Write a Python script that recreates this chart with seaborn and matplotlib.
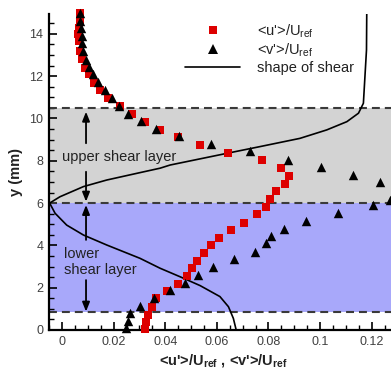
import numpy as np
import pandas as pd
import matplotlib
matplotlib.use("Agg")
import matplotlib.pyplot as plt
import seaborn as sns
from matplotlib.ticker import MultipleLocator
from matplotlib.lines import Line2D

# ---- data ----
u_y = [15.0, 14.6, 14.3, 14.0, 13.65, 13.2, 12.8, 12.4, 12.1, 11.7, 11.35, 10.96,
       10.57, 10.2, 9.83, 9.47, 9.12, 8.75, 8.37, 8.02, 7.66, 7.28, 6.92, 6.57,
       6.18, 5.82, 5.47, 5.08, 4.72, 4.37, 4.0, 3.65, 3.27, 2.91, 2.55, 2.17,
       1.84, 1.5, 1.1, 0.71, 0.36, 0.05]
u_x = [0.0070, 0.0070, 0.0067, 0.0063, 0.0067, 0.0070, 0.0076, 0.0089, 0.0106,
       0.0125, 0.0147, 0.0180, 0.0225, 0.0270, 0.0320, 0.0380, 0.0450, 0.0535,
       0.0645, 0.0774, 0.0850, 0.0880, 0.0864, 0.0828, 0.0806, 0.0790, 0.0757,
       0.0705, 0.0654, 0.0609, 0.0578, 0.0550, 0.0522, 0.0505, 0.0486, 0.0448,
       0.0406, 0.0365, 0.0348, 0.0333, 0.0326, 0.0322]

v_y = [15.0, 14.6, 14.27, 13.9, 13.55, 13.17, 12.77, 12.42, 12.08, 11.71, 11.35,
       10.98, 10.61, 10.22, 9.87, 9.51, 9.15, 8.8, 8.44, 8.05, 7.7, 7.33, 7.0,
       6.16, 5.9, 5.55, 5.16, 4.76, 4.43, 4.09, 3.7, 3.34, 2.97, 2.6, 2.24, 1.89,
       1.53, 1.13, 0.79, 0.42, 0.08]
v_x = [0.0070, 0.0071, 0.0074, 0.0076, 0.0079, 0.0083, 0.0093, 0.0106, 0.0121,
       0.0141, 0.0167, 0.0193, 0.0222, 0.0257, 0.0305, 0.0364, 0.0453, 0.0576,
       0.0729, 0.0875, 0.1003, 0.1127, 0.1233, 0.1272, 0.1204, 0.1070, 0.0946,
       0.0860, 0.0808, 0.0790, 0.0748, 0.0665, 0.0586, 0.0527, 0.0477, 0.0419,
       0.0357, 0.0301, 0.0264, 0.0254, 0.0249]

shear_y = [0.0, 0.55, 1.1, 1.58, 2.1, 2.52, 2.92, 3.39, 4.02, 4.49, 4.96, 5.52,
           6.0, 6.3, 6.78, 7.09, 7.44, 7.65, 7.8, 8.35, 8.67, 9.06, 9.46, 9.85,
           10.25, 10.72, 13.24, 14.94]
shear_x = [0.0675, 0.0664, 0.0645, 0.0612, 0.0535, 0.0457, 0.0380, 0.0302,
           0.0173, 0.0083, 0.0018, -0.0027, -0.0048, -0.0008, 0.0083, 0.0173,
           0.0302, 0.0380, 0.0419, 0.0638, 0.0767, 0.0922, 0.1026, 0.1104,
           0.1149, 0.1168, 0.1180, 0.1181]

layer_bounds = [0.85, 6.0, 10.5]
legend_labels = [r"<u'>/U$_\mathregular{ref}$", r"<v'>/U$_\mathregular{ref}$", "shape of shear"]
region_labels = ["upper shear layer", "lower\nshear layer"]
x_ticks = [0, 0.02, 0.04, 0.06, 0.08, 0.1, 0.12]
x_tick_labels = ["0", "0.02", "0.04", "0.06", "0.08", "0.1", "0.12"]
y_ticks = [0, 2, 4, 6, 8, 10, 12, 14]

# ---- style ----
sns.set_theme(style="ticks")
plt.rcParams["font.family"] = ["Liberation Sans", "DejaVu Sans"]
plt.rcParams["mathtext.fontset"] = "custom"
plt.rcParams["mathtext.rm"] = "Liberation Sans"
plt.rcParams["mathtext.bf"] = "Liberation Sans:bold"

fig = plt.figure(figsize=(3.91, 3.74), dpi=100)
ax = fig.add_axes([49 / 391, 44 / 374, 342 / 391, 316 / 374])

GRAY = "#d3d3d3"
BLUE = "#a8a8fa"
RED = "#dd0000"

ax.axhspan(layer_bounds[1], layer_bounds[2], color=GRAY, zorder=0, lw=0)
ax.axhspan(layer_bounds[0], layer_bounds[1], color=BLUE, zorder=0, lw=0)
for yb in layer_bounds:
    ax.axhline(yb, color="#3a3a3a", lw=1.5, ls=(0, (3.8, 2.4)), zorder=1)

df_u = pd.DataFrame({"x": u_x, "y": u_y})
df_v = pd.DataFrame({"x": v_x, "y": v_y})
df_s = pd.DataFrame({"x": shear_x, "y": shear_y})

sns.lineplot(data=df_s, x="x", y="y", sort=False, estimator=None, color="black",
             lw=1.2, ax=ax, zorder=3)
sns.scatterplot(data=df_u, x="x", y="y", marker="s", s=29, color=RED, linewidth=0,
                ax=ax, zorder=4, clip_on=False)
sns.scatterplot(data=df_v, x="x", y="y", marker="^", s=46, color="black", linewidth=0,
                ax=ax, zorder=5, clip_on=False)

# arrows
arrow_x = 0.0093
arrow_style = "-|>,head_length=0.55,head_width=0.22"
for (y0, y1) in [(8.83, 10.32), (7.48, 6.07), (4.26, 5.91), (2.36, 0.87)]:
    ax.annotate("", xy=(arrow_x, y1), xytext=(arrow_x, y0),
                arrowprops=dict(arrowstyle=arrow_style, color="black", lw=1.3,
                                mutation_scale=10, shrinkA=0, shrinkB=0), zorder=6)

ax.text(0.0, 8.2, region_labels[0], ha="left", va="center", fontsize=10.5, color="#222222")
ax.text(0.0008, 3.22, region_labels[1], ha="left", va="center", fontsize=10.5,
        linespacing=1.15, color="#222222")

ax.set_xlim(-0.00505, 0.1275)
ax.set_ylim(0, 14.94)
ax.set_xticks(x_ticks)
ax.set_xticklabels(x_tick_labels)
ax.set_yticks(y_ticks)
ax.xaxis.set_minor_locator(MultipleLocator(0.005))
ax.yaxis.set_minor_locator(MultipleLocator(0.5))
ax.tick_params(which="major", direction="in", length=6, width=1.2, labelsize=9,
               labelcolor="#404040", color="black", pad=4)
ax.tick_params(which="minor", direction="in", length=3.5, width=1.0, color="black")
ax.tick_params(axis="y", which="both", right=False)
ax.tick_params(axis="x", which="both", top=False)

for side in ["top", "right"]:
    ax.spines[side].set_visible(False)
for side in ["left", "bottom"]:
    ax.spines[side].set_linewidth(1.6)
    ax.spines[side].set_color("black")

ax.set_xlabel(r"<u'>/U$_{\mathbf{ref}}$ , <v'>/U$_{\mathbf{ref}}$", fontsize=10.5,
              fontweight="bold", color="#222222")
ax.set_ylabel("y (mm)", fontsize=10.5, fontweight="bold", color="#222222")
ax.xaxis.set_label_coords(0.509, -0.073)
ax.yaxis.set_label_coords(-0.076, 0.5)

handles = [
    Line2D([], [], marker="s", ls="none", color=RED, markersize=5.4, markeredgewidth=0),
    Line2D([], [], marker="^", ls="none", color="black", markersize=6.8, markeredgewidth=0),
    Line2D([], [], color="black", lw=1.2),
]
leg = ax.legend(handles, legend_labels, loc="upper left",
                bbox_to_anchor=(185 / 391, 1 - 22 / 374), bbox_transform=fig.transFigure,
                frameon=False, fontsize=10.5, handlelength=3.8, handletextpad=1.15,
                borderpad=0, borderaxespad=0, labelspacing=0.12)
for t in leg.get_texts():
    t.set_color("#222222")

fig.savefig("out.png", dpi=100)
